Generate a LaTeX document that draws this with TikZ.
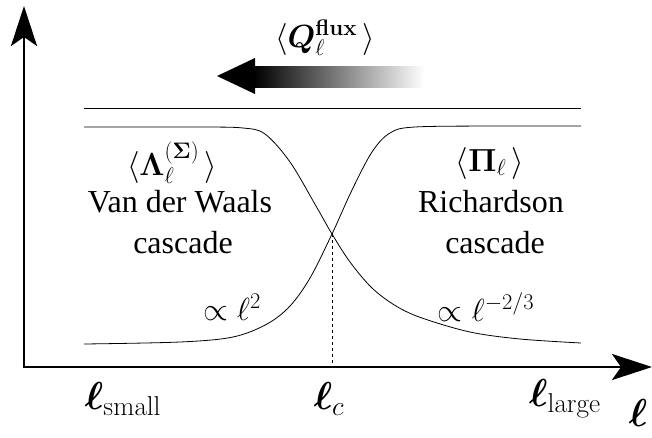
\RequirePackage{fix-cm}
\documentclass[tikz,border=0pt]{standalone}
\usepackage{amsmath}
\usepackage{bm}
\usepackage[no-math]{fontspec}
\setmainfont{Liberation Serif}
\usetikzlibrary{arrows.meta}
\tikzset{
  lab/.style={inner sep=0pt, font=\fontsize{32}{38}\selectfont},
  axlab/.style={inner sep=0pt, font=\fontsize{39}{46}\selectfont},
  axis/.style={line width=2.6pt, -{Stealth[length=40pt, width=26pt, inset=9pt]}},
  curve/.style={line width=0.8pt},
  level/.style={line width=0.9pt},
}
\begin{document}
\begin{tikzpicture}[x=1pt,y=-1pt]
\useasboundingbox (0,0) rectangle (652,437);
% axes
\coordinate (O) at (24,367);
\coordinate (ytop) at (24,6);
\coordinate (xend) at (652,367);
\draw[axis] (O) -- (ytop);
\draw[axis] ([xshift=-1.3pt]O) -- (xend);
% top level line
\coordinate (l1) at (84,108);
\coordinate (l2) at (581,108);
\draw[level] (l1) -- (l2);
% curves
\coordinate (X) at (332,234);
\draw[curve] plot[smooth, tension=0.55] coordinates {(84,127) (200,127) (243,128) (265,134) (290,162) (316,206) (332,234) (350,262) (372,288) (396,306) (422,318) (470,332) (520,339) (581,343)};
\draw[curve] plot[smooth, tension=0.55] coordinates {(84,344) (180,342) (233,337) (267,324) (290,306) (310,278) (332,234) (352,190) (372,152) (390,133) (415,127) (500,126) (581,126)};
% dashed
\coordinate (Xb) at (332,367);
\draw[dashed, line width=0.8pt] (X) -- (Xb);
% gradient arrow
\coordinate (tip) at (217,76);
\shade[left color=black, right color=white, draw=none] (254,66) rectangle (424,87);
\fill (tip) -- (255,58) -- (255,94) -- cycle;
% labels
\node[lab] (Q) at (325,38) {$\langle \bm{Q}_\ell^{\mathbf{flux}}\,\rangle$};
\node[lab] (Lam) at (172,163) {$\langle \bm{\Lambda}_\ell^{(\bm{\Sigma})}\,\rangle$};
\node[lab] (vdw) at (180,202) {Van der Waals};
\node[lab] (c1) at (183,243) {cascade};
\node[lab] (p1) at (232,307) {$\propto \ell^{2}$};
\node[lab] (Pi) at (490,163) {$\langle \bm{\Pi}_\ell\,\rangle$};
\node[lab] (rich) at (491,202) {Richardson};
\node[lab] (c2) at (495,243) {cascade};
\node[lab] (p2) at (486,307) {$\propto \ell^{-2/3}$};
\node[axlab] (ls) at (123,399) {$\bm{\ell}_{\mathrm{small}}$};
\node[axlab] (lc) at (329,399) {$\bm{\ell}_{c}$};
\node[axlab] (ll) at (565,399) {$\bm{\ell}_{\mathrm{large}}$};
\node[axlab] (lx) at (638,413) {$\bm{\ell}$};
\end{tikzpicture}
\end{document}
